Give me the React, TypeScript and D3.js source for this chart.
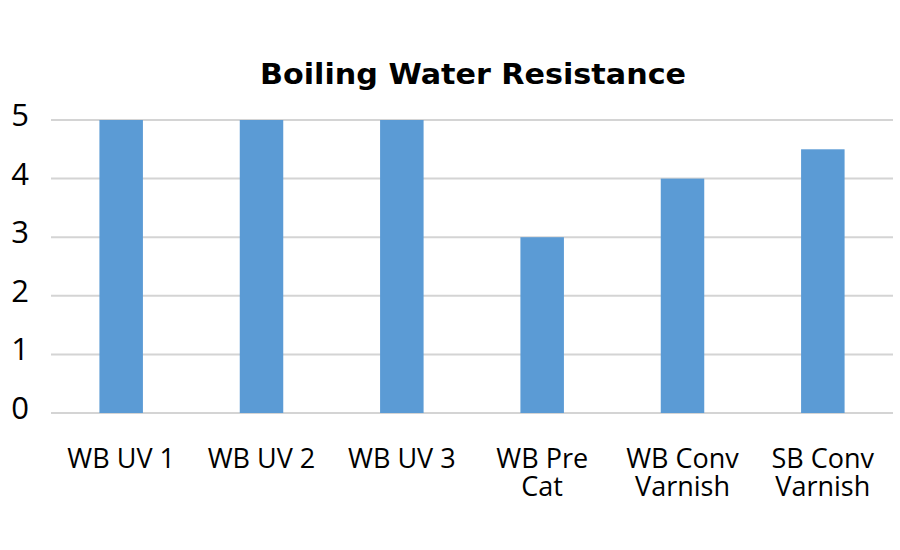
import React from "react";
import * as d3 from "d3";

const categories: string[][] = [
  ["WB UV 1"],
  ["WB UV 2"],
  ["WB UV 3"],
  ["WB Pre", "Cat"],
  ["WB Conv", "Varnish"],
  ["SB Conv", "Varnish"],
];
const values: number[] = [5, 5, 5, 3, 4, 4.5];
const yTicks: number[] = [0, 1, 2, 3, 4, 5];
const title = "Boiling Water Resistance";

const W = 900;
const H = 550;
const FONT = "'Open Sans', 'DejaVu Sans', sans-serif";

export default function App() {
  const x = d3
    .scaleBand<number>()
    .domain(categories.map((_, i) => i))
    .range([51, 893])
    .paddingInner(0.69)
    .paddingOuter(0.345);
  const y = d3.scaleLinear().domain([0, 5]).range([413, 120]);

  return (
    <svg
      width={W}
      height={H}
      style={{ position: "absolute", left: 0, top: 0, background: "#fff" }}
    >
      <text
        x={473}
        y={84}
        textAnchor="middle"
        fontFamily="'DejaVu Sans', sans-serif"
        fontWeight={700}
        fontSize={29}
        textLength={426}
        lengthAdjust="spacingAndGlyphs"
        fill="#000"
      >
        {title}
      </text>
      {yTicks.map((t) => (
        <g key={t}>
          <line
            x1={51}
            x2={893}
            y1={y(t)}
            y2={y(t)}
            stroke="#d4d4d4"
            strokeWidth={2}
          />
          <text
            x={20}
            y={y(t) + 6}
            textAnchor="middle"
            fontFamily={FONT}
            fontSize={31}
            fill="#000"
          >
            {t}
          </text>
        </g>
      ))}
      {values.map((v, i) => (
        <rect
          key={i}
          x={x(i)}
          y={y(v)}
          width={x.bandwidth()}
          height={y(0) - y(v)}
          fill="#5b9bd5"
        />
      ))}
      {categories.map((lines, i) =>
        lines.map((l, j) => (
          <text
            key={`${i}-${j}`}
            x={(x(i) ?? 0) + x.bandwidth() / 2}
            y={468 + j * 28}
            textAnchor="middle"
            fontFamily={FONT}
            fontSize={27}
            fill="#000"
          >
            {l}
          </text>
        ))
      )}
    </svg>
  );
}
